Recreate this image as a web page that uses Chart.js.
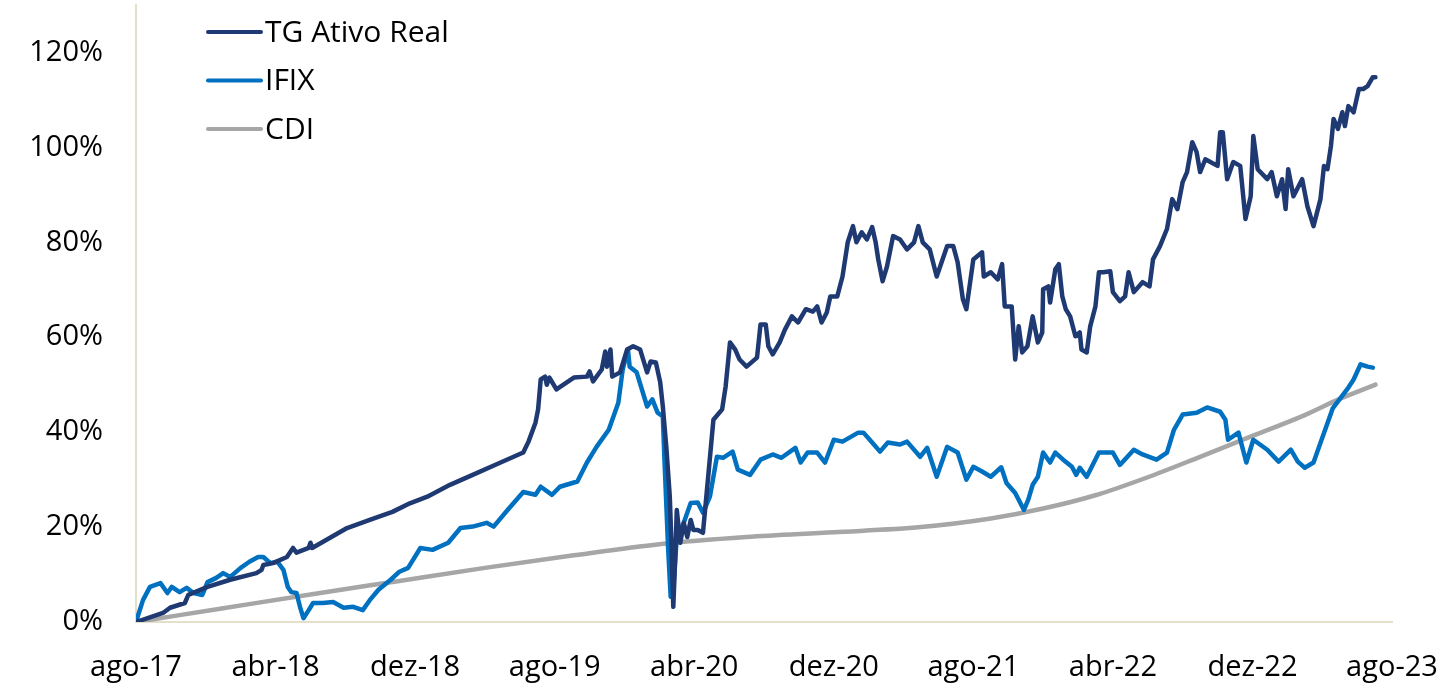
<!DOCTYPE html>
<html>
<head>
<meta charset="utf-8">
<script src="https://cdn.jsdelivr.net/npm/chart.js@4"></script>
<style>
  html, body { margin: 0; padding: 0; background: #fff; }
  #wrap { width: 1437px; height: 687px; }
</style>
</head>
<body>
<div id="wrap"><canvas id="chart" width="1437" height="687"></canvas></div>
<script>
// x = months since ago-17, y = cumulative return in %
var xTickLabels = ["ago-17", "abr-18", "dez-18", "ago-19", "abr-20", "dez-20", "ago-21", "abr-22", "dez-22", "ago-23"];
var yTicks = [0, 20, 40, 60, 80, 100, 120];
var seriesNames = ["TG Ativo Real", "IFIX", "CDI"];

var tgMonths = [0, 1.55, 1.95, 2.8, 3.0, 4.1, 5.4, 6.9, 7.2, 7.3, 7.85, 8.65, 9.0, 9.2, 9.9, 10.0, 10.1, 11.1, 12.1, 13.4,
  14.7, 15.7, 16.7, 18.0, 19.3, 20.9, 22.2, 22.5, 22.9, 23.05, 23.2, 23.45, 23.55, 23.7, 24.1, 25.1, 25.85, 26.0, 26.2, 26.7,
  26.9, 27.0, 27.2, 27.3, 27.75, 28.15, 28.5, 28.9, 29.3, 29.5, 29.8, 30.05, 30.2, 30.4, 30.6, 30.7, 30.8, 30.9, 31.0, 31.2,
  31.4, 31.6, 31.8, 31.95, 32.2, 32.5, 32.8, 33.1, 33.6, 33.8, 34.05, 34.35, 34.6, 35.0, 35.6, 35.8, 36.1, 36.25, 36.5, 36.9,
  37.2, 37.6, 37.95, 38.4, 38.8, 39.05, 39.3, 39.6, 39.8, 40.2, 40.5, 40.8, 41.1, 41.3, 41.6, 41.9, 42.2, 42.4, 42.55, 42.8,
  43.05, 43.4, 43.8, 44.2, 44.6, 44.85, 45.1, 45.5, 45.9, 46.5, 46.85, 47.1, 47.4, 47.6, 48.0, 48.5, 48.6, 49.0, 49.4, 49.65,
  49.8, 50.2, 50.4, 50.6, 50.8, 51.1, 51.4, 51.7, 51.95, 52.0, 52.3, 52.4, 52.7, 52.9, 53.1, 53.3, 53.55, 53.85, 54.1, 54.2,
  54.5, 54.7, 55.0, 55.2, 55.45, 55.85, 56.0, 56.4, 56.7, 56.9, 57.2, 57.7, 58.1, 58.3, 58.7, 59.1, 59.4, 59.7, 60.0, 60.25,
  60.55, 60.8, 61.0, 61.3, 62.0, 62.15, 62.3, 62.55, 62.9, 63.3, 63.6, 63.9, 64.05, 64.3, 64.85, 65.1, 65.4, 65.7, 65.9, 66.05,
  66.35, 66.85, 67.15, 67.5, 67.9, 68.1, 68.3, 68.5, 68.65, 68.9, 69.15, 69.3, 69.5, 69.8, 70.1, 70.35, 70.6, 70.9, 71.05];
var tgValues = [0, 1.9, 3.0, 4.0, 5.7, 7.4, 8.9, 10.3, 11.0, 12.0, 12.4, 13.7, 15.6, 14.6, 15.6, 16.7, 15.6, 17.7, 19.8, 21.5,
  23.2, 25.0, 26.4, 28.9, 31.0, 33.6, 35.7, 38.0, 42.0, 44.8, 51.1, 51.7, 50.0, 51.5, 49.0, 51.5, 51.7, 52.8, 50.7, 53.2,
  57.0, 53.8, 57.4, 51.7, 52.6, 57.4, 58.1, 57.4, 52.6, 54.9, 54.7, 50.5, 45.4, 36.9, 26.4, 15.8, 3.2, 12.5, 23.6, 16.7,
  20.9, 17.9, 21.5, 19.4, 19.4, 18.8, 30.6, 42.6, 44.8, 49.6, 58.9, 57.4, 55.3, 53.8, 55.7, 62.7, 62.7, 58.1, 56.4, 58.9,
  61.6, 64.4, 63.1, 65.9, 65.4, 66.5, 63.1, 65.2, 68.6, 68.6, 72.8, 80.0, 83.4, 80.0, 82.1, 80.6, 83.2, 80.0, 76.4, 71.8,
  74.9, 81.3, 80.6, 78.5, 80.0, 83.4, 80.0, 78.5, 72.8, 79.2, 79.2, 75.8, 68.0, 65.9, 76.4, 77.9, 72.8, 73.7, 72.2, 75.4,
  66.5, 66.5, 55.3, 62.3, 56.8, 58.1, 64.4, 58.9, 61.0, 70.1, 70.7, 67.3, 74.3, 75.4, 68.6, 65.9, 64.4, 60.2, 61.0, 57.4,
  56.8, 62.3, 66.5, 73.7, 73.7, 73.9, 69.5, 67.6, 68.6, 73.7, 69.5, 71.6, 70.7, 76.4, 79.2, 82.8, 89.1, 87.0, 92.7, 94.8,
  101.1, 99.0, 94.8, 97.5, 96.1, 103.2, 103.2, 93.3, 96.9, 96.1, 84.9, 89.7, 102.4, 95.4, 93.3, 94.8, 89.7, 93.3, 87.0, 95.4,
  89.7, 93.3, 87.6, 83.4, 89.1, 96.1, 95.4, 100.3, 106.0, 103.9, 107.4, 104.5, 108.7, 107.4, 112.3, 112.3, 112.9, 114.8, 114.8];

var ifixMonths = [0, 0.4, 0.8, 1.4, 1.8, 2.05, 2.5, 2.9, 3.3, 3.8, 4.1, 4.6, 5.0, 5.4, 6.0, 6.5, 7.0, 7.3, 7.7, 8.1,
  8.45, 8.7, 8.9, 9.2, 9.4, 9.6, 9.9, 10.15, 10.7, 11.3, 11.9, 12.45, 13.0, 13.4, 13.9, 14.6, 15.1, 15.6, 16.3, 17.0,
  17.9, 18.6, 19.3, 20.1, 20.5, 21.3, 22.2, 22.9, 23.2, 23.85, 24.3, 25.3, 25.85, 26.4, 27.1, 27.65, 27.9, 28.2, 28.3, 28.7,
  29.3, 29.6, 29.9, 30.2, 30.3, 30.5, 30.65, 30.8, 31.0, 31.4, 31.8, 32.2, 32.5, 32.9, 33.3, 33.65, 34.2, 34.5, 35.2, 35.8,
  36.5, 37.0, 37.8, 38.1, 38.5, 39.05, 39.5, 40.0, 40.5, 41.4, 41.7, 42.2, 42.65, 43.1, 43.8, 44.2, 44.95, 45.35, 45.9, 46.5,
  47.1, 47.6, 48.0, 48.5, 49.0, 49.6, 49.9, 50.4, 50.9, 51.15, 51.4, 51.7, 52.0, 52.4, 52.7, 53.15, 53.65, 53.9, 54.1, 54.5,
  55.2, 56.0, 56.4, 57.2, 57.7, 58.5, 59.1, 59.5, 60.0, 60.8, 61.4, 62.15, 62.45, 62.6, 63.2, 63.65, 64.05, 64.85, 65.5, 66.2,
  66.6, 67.0, 67.5, 67.8, 68.6, 69.5, 69.8, 70.2, 70.6, 70.9];
var ifixValues = [0, 4.6, 7.4, 8.2, 6.1, 7.4, 6.3, 7.2, 6.1, 5.7, 8.4, 9.3, 10.3, 9.5, 11.4, 12.7, 13.7, 13.7, 12.4, 12.7,
  11.0, 7.4, 6.3, 6.1, 3.2, 0.8, 2.5, 4.0, 4.0, 4.2, 3.0, 3.2, 2.5, 4.6, 6.8, 8.9, 10.6, 11.4, 15.6, 15.2,
  16.7, 19.8, 20.1, 20.9, 20.1, 23.6, 27.4, 26.8, 28.5, 26.8, 28.5, 29.6, 33.6, 36.9, 40.5, 46.2, 53.2, 57.4, 53.8, 52.6,
  45.4, 46.9, 44.1, 43.3, 33.6, 15.8, 5.3, 6.8, 17.9, 20.9, 25.1, 25.2, 23.0, 26.4, 34.8, 34.6, 35.9, 32.1, 31.0, 34.2,
  35.3, 34.6, 36.7, 33.6, 35.7, 35.7, 33.6, 38.4, 38.0, 39.9, 39.9, 37.8, 35.9, 37.8, 37.4, 38.0, 34.8, 36.7, 30.6, 36.9,
  35.7, 30.0, 32.7, 31.7, 30.6, 32.6, 29.3, 27.2, 23.6, 25.8, 28.9, 30.6, 35.7, 33.6, 35.7, 34.2, 32.7, 31.0, 32.5, 30.6,
  35.7, 35.7, 33.1, 36.3, 35.3, 34.2, 35.7, 40.5, 43.7, 44.1, 45.2, 44.3, 42.6, 38.4, 39.9, 33.6, 38.4, 36.3, 33.8, 36.3,
  33.8, 32.5, 33.6, 36.7, 45.0, 49.4, 51.1, 54.3, 53.8, 53.6];

var cdiMonths = [0, 5, 10, 15, 20, 25, 30, 35, 40, 45, 49, 52, 55, 58, 61, 64, 67, 69, 71.05];
var cdiValues = [0, 2.9, 5.8, 8.6, 11.4, 14.0, 16.4, 17.9, 18.9, 20.0, 21.8, 23.9, 26.7, 30.5, 34.8, 39.2, 43.6, 47.0, 50.0];

var colors = ["#1f3a73", "#0070c0", "#a6a6a6"];
var FONT = { family: "'Open Sans', 'Noto Sans', sans-serif", size: 29 };

function toPoints(xs, ys) {
  return xs.map(function (x, i) { return { x: x, y: ys[i] }; });
}

// legend drawn as a vertical list in the top-left corner of the plot
var legendPlugin = {
  id: "sideLegend",
  afterDraw: function (chart) {
    var ctx = chart.ctx;
    ctx.save();
    ctx.font = "30px " + FONT.family;
    ctx.textBaseline = "middle";
    chart.data.datasets.forEach(function (ds, i) {
      var y = 32 + i * 48.5;
      ctx.strokeStyle = ds.borderColor;
      ctx.lineWidth = 4;
      ctx.lineCap = "round";
      ctx.beginPath();
      ctx.moveTo(208, y);
      ctx.lineTo(261, y);
      ctx.stroke();
      ctx.fillStyle = "#000";
      ctx.fillText(ds.label, 265, y + 1);
    });
    ctx.restore();
  }
};

var ctx = document.getElementById("chart").getContext("2d");
new Chart(ctx, {
  type: "line",
  data: {
    datasets: [
      { label: seriesNames[0], data: toPoints(tgMonths, tgValues), borderColor: colors[0], order: 1 },
      { label: seriesNames[1], data: toPoints(ifixMonths, ifixValues), borderColor: colors[1], order: 2 },
      { label: seriesNames[2], data: toPoints(cdiMonths, cdiValues), borderColor: colors[2], order: 3, cubicInterpolationMode: "monotone" }
    ]
  },
  options: {
    responsive: false,
    animation: false,
    layout: { padding: { top: 5, right: 45, left: 0, bottom: 0 } },
    elements: {
      point: { radius: 0 },
      line: { borderWidth: 4.5, tension: 0, borderJoinStyle: "round", borderCapStyle: "round", fill: false }
    },
    plugins: {
      legend: { display: false },
      tooltip: { enabled: false }
    },
    scales: {
      x: {
        type: "linear",
        min: 0,
        max: 72,
        grid: { display: false, drawTicks: false },
        border: { display: true, color: "#e3dfc8", width: 2 },
        ticks: {
          font: FONT,
          color: "#000",
          padding: 28,
          maxRotation: 0,
          autoSkip: false,
          callback: function (v) { return xTickLabels[Math.round(v / 8)]; }
        },
        afterBuildTicks: function (scale) {
          scale.ticks = xTickLabels.map(function (l, i) { return { value: i * 8 }; });
        },
        afterFit: function (scale) {
          scale.height = 65;
          scale.paddingLeft = 0;
          scale.paddingRight = 0;
        }
      },
      y: {
        min: 0,
        max: 130,
        grid: { display: false, drawTicks: false },
        border: { display: true, color: "#e3dfc8", width: 2 },
        ticks: {
          font: FONT,
          color: "#000",
          padding: 33,
          callback: function (v) { return v + "%"; }
        },
        afterBuildTicks: function (scale) {
          scale.ticks = yTicks.map(function (v) { return { value: v }; });
        },
        afterFit: function (scale) {
          scale.width = 136;
          scale.paddingTop = 0;
          scale.paddingBottom = 0;
        }
      }
    }
  },
  plugins: [legendPlugin]
});
</script>
</body>
</html>
